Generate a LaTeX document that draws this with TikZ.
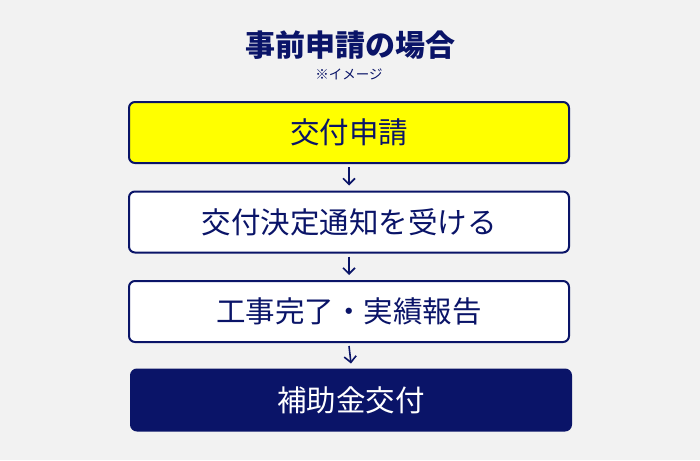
\documentclass[tikz,border=0pt]{standalone}
\usepackage{fontspec}
\setmainfont{Noto Sans CJK JP}
\usetikzlibrary{arrows.meta}
\definecolor{navy}{HTML}{0A1468}
\definecolor{bg}{HTML}{F2F2F2}
\definecolor{yel}{HTML}{FFFF00}
\tikzset{
  flowbox/.style={draw=navy, line width=2pt, rounded corners=6pt, minimum width=440pt, minimum height=61pt, inner sep=0pt, font=\fontsize{29.5}{32}\selectfont, text=navy},
  flowarrow/.style={draw=navy, line width=1.6pt, -{Straight Barb[length=6pt,width=12pt,line width=1.6pt]}}
}
\begin{document}
\begin{tikzpicture}[x=1pt,y=-1pt]
\fill[bg] (0,0) rectangle (700,460);
\useasboundingbox (0,0) rectangle (700,460);
\node[text=navy, font=\fontsize{30}{32}\selectfont\bfseries] (title) at (350,45) {事前申請の場合};
\node[text=navy, font=\fontsize{13.5}{15}\selectfont] (sub) at (349,74) {※イメージ};
\node[flowbox, fill=yel] (b1) at (349,132.5) {交付申請};
\node[flowbox, fill=white] (b2) at (349,222) {交付決定通知を受ける};
\node[flowbox, fill=white] (b3) at (349,311.5) {工事完了・実績報告};
\node[flowbox, fill=navy, text=white, draw=navy] (b4) at (351,400) {補助金交付};
\draw[flowarrow] ([yshift=-3pt]b1.south) -- ([yshift=5pt]b2.north);
\draw[flowarrow] ([yshift=-3pt]b2.south) -- ([yshift=5pt]b3.north);
\draw[flowarrow] ([yshift=-3pt]b3.south) -- ([yshift=5pt]b4.north);
\end{tikzpicture}
\end{document}
